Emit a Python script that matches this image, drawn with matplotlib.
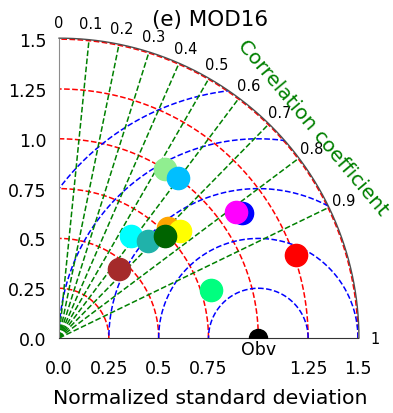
import numpy as np
import matplotlib
matplotlib.use('Agg')
import matplotlib.pyplot as plt
from matplotlib.patches import Wedge

# normalized std and correlation of each model (obs = 1, 1)
names = ['brown', 'cyan', 'lightseagreen', 'orange', 'yellow', 'darkgreen',
         'lightgreen', 'deepskyblue', 'blue', 'magenta', 'red', 'springgreen']
stds = [0.46, 0.63, 0.66, 0.78, 0.81, 0.74, 1.00, 1.00, 1.11, 1.09, 1.26, 0.80]
corrs = [0.656, 0.577, 0.676, 0.703, 0.747, 0.720, 0.533, 0.596, 0.825, 0.815, 0.943, 0.953]
colors = names

std_levels = [0.25, 0.5, 0.75, 1.0, 1.25, 1.5]
rms_levels = [0.25, 0.5, 0.75, 1.0, 1.25]
corr_lines = [0.1, 0.2, 0.3, 0.4, 0.5, 0.6, 0.7, 0.8, 0.9]
corr_labels = [0, 0.1, 0.2, 0.3, 0.4, 0.5, 0.6, 0.7, 0.8, 0.9, 1]
smax = 1.5

fig = plt.figure(figsize=(3.93, 4.14), dpi=100)
ax = fig.add_axes([0.150, 0.181, 0.761, 0.722])
ax.set_xlim(0, smax)
ax.set_ylim(0, smax)
ax.set_aspect('equal')

clip = Wedge((0, 0), smax + 0.005, 0, 90, transform=ax.transData, facecolor='none', edgecolor='none')
ax.add_patch(clip)

t = np.linspace(0, np.pi / 2, 200)
# std circles
for s in std_levels:
    ln, = ax.plot(s * np.cos(t), s * np.sin(t), 'r--', lw=1.1)
    ln.set_clip_path(clip)

# rms circles around obs
t2 = np.linspace(0, np.pi, 400)
for r in rms_levels:
    ln, = ax.plot(1 + r * np.cos(t2), r * np.sin(t2), 'b--', lw=1.1)
    ln.set_clip_path(clip)

# correlation lines
for c in corr_lines:
    a = np.arccos(c)
    ax.plot([0, smax * np.cos(a)], [0, smax * np.sin(a)], '--', color='green', lw=1.1)

# outer arc
tb = np.linspace(0, np.pi / 2, 300)
ax.plot((smax + 0.005) * np.cos(tb), (smax + 0.005) * np.sin(tb), '-', color='0.3', lw=1.0, clip_on=False)

# correlation labels
for c in corr_labels:
    a = np.arccos(c)
    ax.text(1.585 * np.cos(a), 1.585 * np.sin(a), str(c), ha='center', va='center', fontsize=10.5, clip_on=False)

ax.text(1.275, 1.06, 'Correlation coefficient', color='green', rotation=-50,
        ha='center', va='center', fontsize=14.5, rotation_mode='anchor')

# models
for s, c, col in zip(stds, corrs, colors):
    a = np.arccos(c)
    ax.plot(s * np.cos(a), s * np.sin(a), 'o', color=col, ms=16, zorder=5)

# observation
ax.plot(1.0, 0.0, 'o', color='black', ms=13, zorder=6)
ax.text(1.0, -0.055, 'Obv', ha='center', va='center', fontsize=12.5)

ax.spines['top'].set_visible(False)
ax.spines['right'].set_visible(False)
ax.spines['left'].set_color('0.55')
ax.spines['bottom'].set_color('0.2')
ax.set_xticks([0, 0.25, 0.5, 0.75, 1.25, 1.5])
ax.set_xticklabels(['0.0', '0.25', '0.5', '0.75', '1.25', '1.5'])
ax.set_yticks([0, 0.25, 0.5, 0.75, 1.0, 1.25, 1.5])
ax.set_yticklabels(['0.0', '0.25', '0.5', '0.75', '1.0', '1.25', '1.5'])
ax.tick_params(axis='x', length=0, pad=15, labelsize=12.5)
ax.tick_params(axis='y', length=0, pad=9, labelsize=12.5)

ax.text(0.76, 1.60, '(e) MOD16', ha='center', va='center', fontsize=15.5)
ax.text(0.76, -0.296, 'Normalized standard deviation', ha='center', va='center', fontsize=14.7)

plt.savefig('out.png', dpi=100)
